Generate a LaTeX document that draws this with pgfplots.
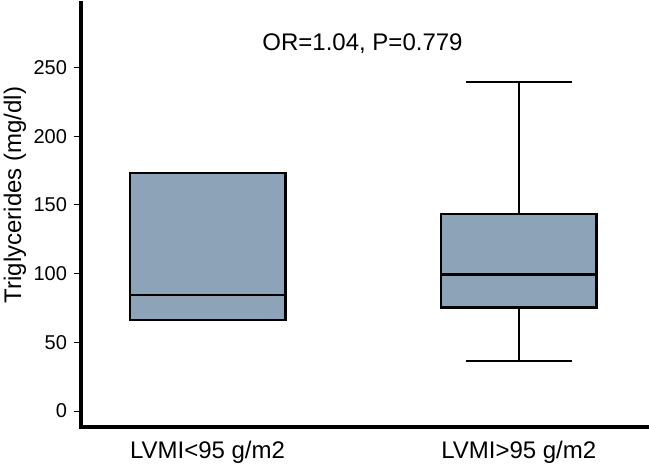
\documentclass[border=0pt]{standalone}
\usepackage{fontspec}
\setmainfont{Liberation Sans}
\usepackage{pgfplots}
\pgfplotsset{compat=1.18}
\usepgfplotslibrary{statistics}
\definecolor{boxfill}{RGB}{141,163,184}
\begin{document}
\begin{tikzpicture}
\useasboundingbox (0,0) rectangle (324.5pt,232pt);
\begin{axis}[
  at={(40.5pt,18.5pt)}, anchor=south west,
  scale only axis, width=283pt, height=212pt,
  xmin=0.5935, xmax=2.412, ymin=-11.6, ymax=297,
  axis x line*=bottom, axis y line*=left,
  axis line style={line width=2pt, line cap=rect},
  xtick={1,2}, xticklabels={LVMI<95 g/m2, LVMI>95 g/m2},
  x tick style={draw=none},
  ytick={0,50,...,250},
  y tick style={line width=0.5pt, black},
  tick align=outside, major tick length=3.5pt,
  ticklabel style={font=\fontsize{10}{12}\selectfont},
  xticklabel style={font=\fontsize{12}{14}\selectfont},
  /pgf/number format/assume math mode=true,
  ylabel={Triglycerides (mg/dl)},
  ylabel style={font=\fontsize{12}{14}\selectfont, at={(axis description cs:-0.1166,0.547)}, anchor=center},
  boxplot/draw direction=y,
  boxplot/box extend=0.5,
  boxplot/whisker extend=0.34,
]
\addplot[draw=black, line width=1.2pt, fill=boxfill,
  boxplot prepared={draw position=1, lower whisker=66.2, lower quartile=66.2,
  median=84.4, upper quartile=173.3, upper whisker=173.3}] coordinates {};
\addplot[draw=black, line width=1.2pt, fill=boxfill,
  boxplot prepared={draw position=2, lower whisker=36.6, lower quartile=75.5,
  median=99.5, upper quartile=143.4, upper whisker=239.7}] coordinates {};
\node[anchor=base, font=\fontsize{12}{14}\selectfont] at (axis cs:1.498,262.7) {OR=1.04, P=0.779};
\end{axis}
\end{tikzpicture}
\end{document}
